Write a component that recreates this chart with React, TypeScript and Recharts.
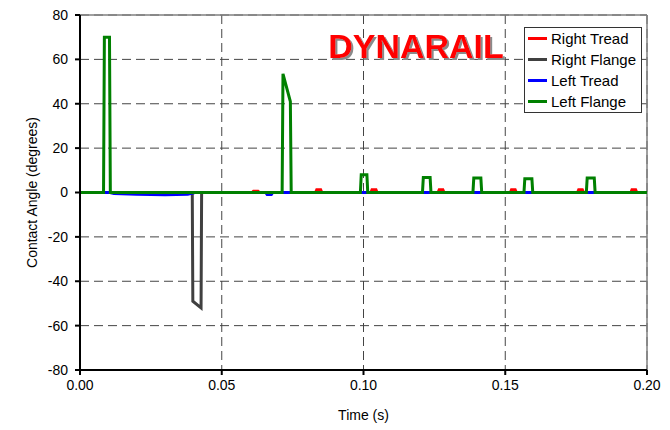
import React from 'react';
import { LineChart, Line, XAxis, YAxis, CartesianGrid, Legend, ReferenceLine, Label, Customized } from 'recharts';

// contact angle traces, time in s, angle in degrees
const rightTreadTime = [0, 0.0607, 0.0612, 0.0628, 0.0633, 0.0831, 0.0835, 0.0849, 0.0853, 0.1026, 0.1030, 0.1044, 0.1048, 0.1263, 0.1267, 0.1280, 0.1284, 0.1518, 0.1522, 0.1535, 0.1539, 0.1755, 0.1759, 0.1772, 0.1776, 0.1943, 0.1947, 0.1960, 0.1964, 0.2];
const rightTreadAngle = [0, 0, 0.6, 0.6, 0, 0, 1.2, 1.2, 0, 0, 1.2, 1.2, 0, 0, 1.2, 1.2, 0, 0, 1.2, 1.2, 0, 0, 1.2, 1.2, 0, 0, 1.2, 1.2, 0, 0];

const rightFlangeTime = [0, 0.0396, 0.0398, 0.0427, 0.0429, 0.2];
const rightFlangeAngle = [0, 0, -49, -52, 0, 0];

const leftTreadTime = [0, 0.0106, 0.012, 0.02, 0.03, 0.038, 0.0405, 0.0655, 0.066, 0.0675, 0.068, 0.2];
const leftTreadAngle = [0, 0, -0.5, -0.8, -1, -0.8, 0, 0, -0.9, -0.9, 0, 0];

const leftFlangeTime = [0, 0.0083, 0.0086, 0.0104, 0.0107, 0.0713, 0.0716, 0.0742, 0.0745, 0.0989, 0.0992, 0.1012, 0.1015, 0.1208, 0.1211, 0.1235, 0.1238, 0.1386, 0.1389, 0.1414, 0.1417, 0.1566, 0.1569, 0.1594, 0.1597, 0.1786, 0.1789, 0.1814, 0.1817, 0.2];
const leftFlangeAngle = [0, 0, 70, 70, 0, 0, 53.5, 41, 0, 0, 8, 8, 0, 0, 6.8, 6.8, 0, 0, 6.5, 6.5, 0, 0, 6.2, 6.2, 0, 0, 6.5, 6.5, 0, 0];

const timeTicks = [0, 0.05, 0.1, 0.15, 0.2];
const angleTicks = [-80, -60, -40, -20, 0, 20, 40, 60, 80];

const font = "Arial, 'Liberation Sans', sans-serif";

const series = [
  { name: 'Right Tread', color: '#ff0000', data: toPoints(rightTreadTime, rightTreadAngle) },
  { name: 'Right Flange', color: '#404040', data: toPoints(rightFlangeTime, rightFlangeAngle) },
  { name: 'Left Tread', color: '#0000ff', data: toPoints(leftTreadTime, leftTreadAngle) },
  { name: 'Left Flange', color: '#008000', data: toPoints(leftFlangeTime, leftFlangeAngle) },
];

function toPoints(t: number[], v: number[]) {
  return t.map((x, i) => ({ t: x, angle: v[i] }));
}

function LegendBox() {
  return (
    <div style={{ border: '1px solid #333', background: '#fff', width: 116, fontFamily: font, fontSize: 15, color: '#000' }}>
      {series.map((s) => (
        <div key={s.name} style={{ display: 'flex', alignItems: 'center', height: 21, lineHeight: '21px' }}>
          <span style={{ display: 'inline-block', width: 19, height: 3, background: s.color, marginLeft: 3, marginRight: 4 }} />
          {s.name}
        </div>
      ))}
    </div>
  );
}

// red title with a grey drop shadow, like the original
function Title() {
  return (
    <g>
      <defs>
        <filter id="titleShadow" x="-10%" y="-30%" width="130%" height="160%">
          <feDropShadow dx={2} dy={2} stdDeviation={0.3} floodColor="#8a8a8a" floodOpacity={1} />
        </filter>
      </defs>
      <text
        x={416}
        y={58}
        textAnchor="middle"
        fill="#ff0000"
        filter="url(#titleShadow)"
        style={{ fontFamily: font, fontWeight: 'bold', fontSize: 34 }}
      >
        DYNARAIL
      </text>
    </g>
  );
}

export default function App() {
  return (
    <div style={{ position: 'absolute', left: 0, top: 0, width: 670, height: 430, background: '#fff' }}>
      <LineChart width={670} height={430} margin={{ top: 15, right: 23, left: 0, bottom: 0 }}>
        <CartesianGrid stroke="#444" strokeDasharray="9 5" />
        <XAxis
          dataKey="t"
          type="number"
          domain={[0, 0.2]}
          ticks={timeTicks}
          tickFormatter={(v: number) => v.toFixed(2)}
          height={60}
          allowDataOverflow
          axisLine={{ stroke: '#000', strokeWidth: 2 }}
          tickLine={{ stroke: '#000', strokeWidth: 2 }}
          tickSize={5}
          tickMargin={5}
          tick={{ fill: '#000', fontSize: 14, fontFamily: font }}
        >
          <Label value="Time (s)" position="insideBottom" offset={10} style={{ fill: '#000', fontSize: 14, fontFamily: font }} />
        </XAxis>
        <YAxis
          type="number"
          domain={[-80, 80]}
          ticks={angleTicks}
          width={80}
          allowDataOverflow
          axisLine={{ stroke: '#000', strokeWidth: 2 }}
          tickLine={{ stroke: '#000', strokeWidth: 2 }}
          tickSize={5}
          tickMargin={7}
          tick={{ fill: '#000', fontSize: 14, fontFamily: font }}
        >
          <Label
            value="Contact Angle (degrees)"
            angle={-90}
            position="insideLeft"
            offset={32}
            style={{ fill: '#000', fontSize: 14, fontFamily: font, textAnchor: 'middle' }}
          />
        </YAxis>
        <ReferenceLine y={80} stroke="#808080" strokeWidth={1.5} />
        <ReferenceLine x={0.2} stroke="#808080" strokeWidth={1.5} />
        {series.map((s) => (
          <Line
            key={s.name}
            data={s.data}
            dataKey="angle"
            name={s.name}
            type="linear"
            stroke={s.color}
            strokeWidth={3}
            dot={false}
            activeDot={false}
            isAnimationActive={false}
          />
        ))}
        <Customized component={Title} />
        <Legend
          layout="horizontal"
          align="center"
          verticalAlign="middle"
          content={() => <LegendBox />}
          wrapperStyle={{ left: 524, top: 27, width: 118 }}
        />
      </LineChart>
    </div>
  );
}
